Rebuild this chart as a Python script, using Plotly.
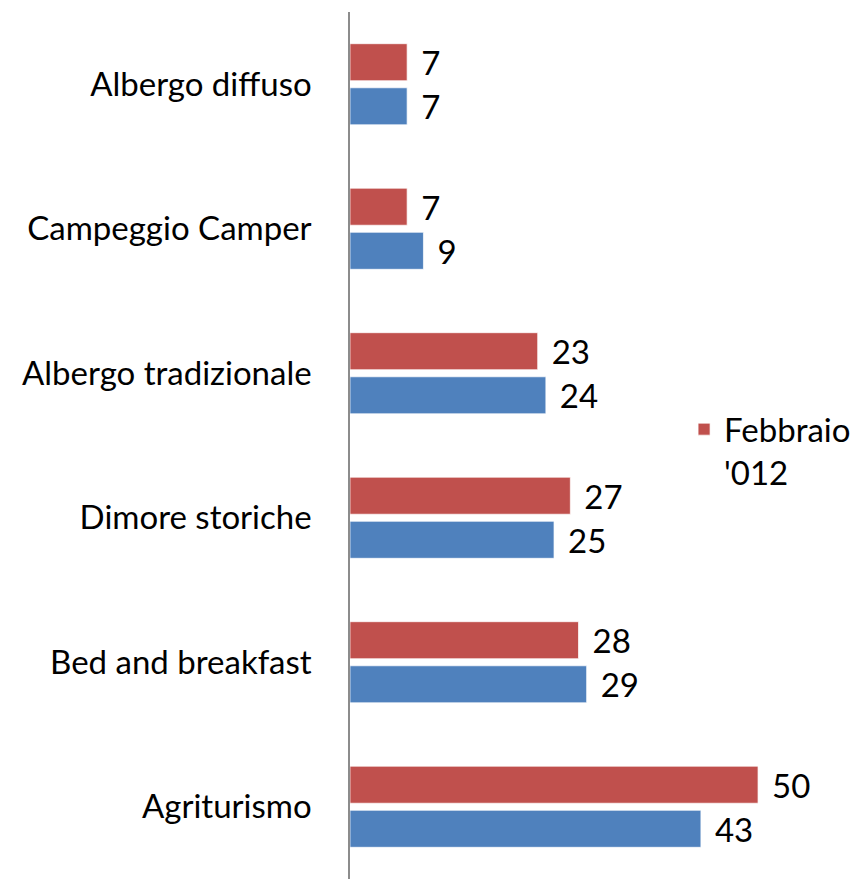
import plotly.graph_objects as go

# categories listed bottom -> top
categorie = ["Agriturismo", "Bed and breakfast", "Dimore storiche",
             "Albergo tradizionale", "Campeggio Camper", "Albergo diffuso"]
febbraio_012 = [50, 28, 27, 23, 7, 7]
serie_blu = [43, 29, 25, 24, 9, 7]

font_name = "Lato"
fsize = 33

fig = go.Figure()
fig.add_trace(go.Bar(
    y=categorie, x=serie_blu, orientation="h",
    name="Serie 2", showlegend=False,
    marker=dict(color="#4F81BD", line=dict(color="rgba(255,255,255,0.7)", width=1)),
    text=[f"\u2004{v}" for v in serie_blu], textposition="outside",
    constraintext="none", cliponaxis=False,
    outsidetextfont=dict(family=font_name, size=fsize, color="black"),
))
fig.add_trace(go.Bar(
    y=categorie, x=febbraio_012, orientation="h",
    name="Febbraio<br>'012",
    marker=dict(color="#C0504D", line=dict(color="rgba(255,255,255,0.7)", width=1)),
    text=[f"\u2004{v}" for v in febbraio_012], textposition="outside",
    constraintext="none", cliponaxis=False,
    outsidetextfont=dict(family=font_name, size=fsize, color="black"),
))

# page body adds ~7px offset, margins compensate
fig.update_layout(
    width=865, height=879,
    margin=dict(l=342, r=66, t=4, b=8),
    barmode="group", bargap=0.39, bargroupgap=0.16,
    paper_bgcolor="white", plot_bgcolor="white",
    font=dict(family=font_name, size=fsize, color="black"),
    legend=dict(x=0.731, y=0.494, xanchor="left", yanchor="middle",
                valign="top", font=dict(size=fsize), bgcolor="rgba(0,0,0,0)"),
)
fig.update_xaxes(range=[0, 56], showticklabels=False, showgrid=False,
                 zeroline=False, showline=False)
fig.update_yaxes(showline=True, linecolor="#8C8C8C", linewidth=1.5,
                 showgrid=False, ticks="", ticklabelstandoff=30,
                 automargin=False, tickfont=dict(size=fsize))

fig.write_html("out.html")
